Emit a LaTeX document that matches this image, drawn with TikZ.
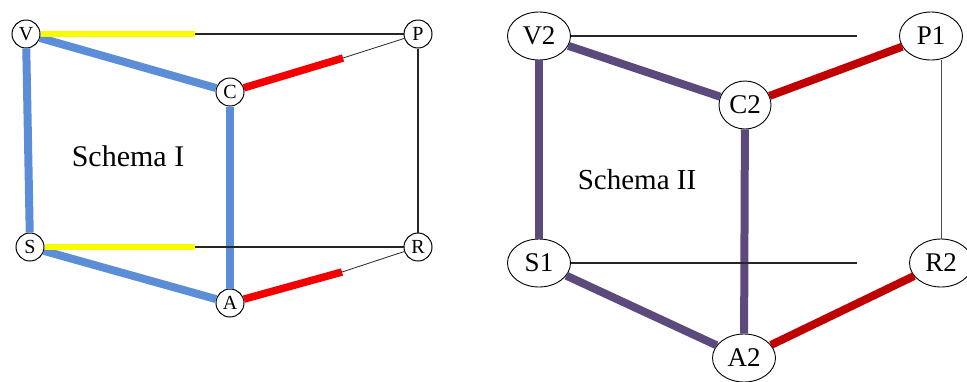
\documentclass[tikz,border=0pt]{standalone}
\usepackage{fontspec}
\setmainfont{Liberation Serif}
\usepackage{xcolor}
\usepackage{tikz}
\usetikzlibrary{
    positioning,
    shapes.geometric
}
\definecolor{schemablue}{HTML}{5B8ED6}
\definecolor{schemayellow}{HTML}{FAFA00}
\definecolor{schemared}{HTML}{F50000}
\definecolor{schemapurple}{HTML}{5C4A7D}
\definecolor{schemadarkred}{HTML}{C00000}
\tikzstyle{thinline}=[line width=1.2pt,draw=black!85]

\begin{document}
\begin{tikzpicture}[
    x=1pt,y=-1pt,
    smallvertex/.style={
        circle,
        draw,
        line width=1pt,
        minimum size=28pt,
        inner sep=0pt,
        font=\fontsize{20}{20}\selectfont
    },
    bigvertex/.style={
        ellipse,
        draw,
        line width=0.9pt,
        minimum width=63pt,
        minimum height=48pt,
        inner sep=0pt,
        font=\fontsize{27}{27}\selectfont
    },
    schematitle/.style={font=\fontsize{30}{30}\selectfont},
    blueedge/.style={line width=8pt,draw=schemablue},
    yellowedge/.style={line width=6.5pt,draw=schemayellow},
    rededge/.style={line width=7.5pt,draw=schemared},
    purpleedge/.style={line width=8pt,draw=schemapurple},
    darkrededge/.style={line width=8pt,draw=schemadarkred}
]
\useasboundingbox (0,0) rectangle (967,381);
% Schema I
\node[smallvertex] (V) at (26,34) {V};
\node[smallvertex] (P) at (418,34) {P};
\node[smallvertex] (C) at (230,92) {C};
\node[smallvertex] (S) at (30,247) {S};
\node[smallvertex] (R) at (418,247) {R};
\node[smallvertex] (A) at (230,303) {A};
\node[schematitle] (t1) at (128,156) {Schema I};
\coordinate (yv) at (195,34);
\coordinate (ys) at (195,247);
\coordinate (rc) at (343,58);
\coordinate (ra) at (342,272);
\draw[blueedge] (V) -- (S);
\draw[blueedge] (V) -- (C);
\draw[blueedge] (C) -- (A);
\draw[blueedge] (S) -- (A);
\draw[yellowedge] (V) -- (yv);
\draw[yellowedge] (S) -- (ys);
\draw[rededge] (C) -- (rc);
\draw[rededge] (A) -- (ra);
\draw[thinline] (yv) -- (P);
\draw[thinline] (ys) -- (R);
\draw[thinline,line width=0.8pt] (rc) -- (P);
\draw[thinline,line width=0.8pt] (ra) -- (R);
\draw[thinline] (P) -- (R);
% Schema II
\node[bigvertex] (V2) at (539,36) {V2};
\node[bigvertex] (P1) at (931,36) {P1};
\node[bigvertex,minimum width=52pt] (C2) at (745,105) {C2};
\node[bigvertex] (S1) at (539,263) {S1};
\node[bigvertex] (R2) at (941,263) {R2};
\node[bigvertex] (A2) at (744,358) {A2};
\node[schematitle,font=\fontsize{29}{29}\selectfont] (t2) at (637,180) {Schema II};
\coordinate (lv) at (857,36);
\coordinate (ls) at (857,263);
\draw[purpleedge] (V2) -- (S1);
\draw[purpleedge] (V2) -- (C2);
\draw[purpleedge] (C2) -- (A2);
\draw[purpleedge] (S1) -- (A2);
\draw[darkrededge] (C2) -- (P1);
\draw[darkrededge] (A2) -- (R2);
\draw[thinline] (V2) -- (lv);
\draw[thinline] (S1) -- (ls);
\draw[thinline,line width=0.8pt,draw=black!70] (P1.south -| R2.north) -- (R2.north);
\end{tikzpicture}
\end{document}
